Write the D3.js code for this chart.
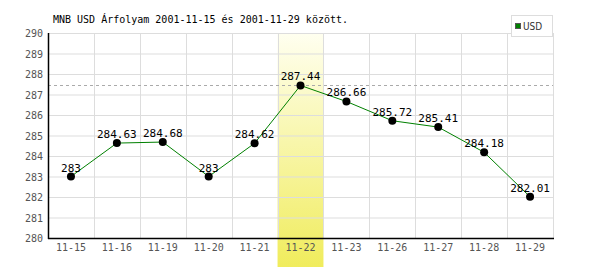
<!DOCTYPE html>
<html>
<head>
<meta charset="utf-8">
<script src="https://cdn.jsdelivr.net/npm/d3@7"></script>
<style>
  body { margin: 0; background: #fff; }
  svg { display: block; }
</style>
</head>
<body>
<div class="content"></div>
<script>
var dates = ['11-15', '11-16', '11-19', '11-20', '11-21', '11-22', '11-23', '11-26', '11-27', '11-28', '11-29'];
var usd = [283, 284.63, 284.68, 283, 284.62, 287.44, 286.66, 285.72, 285.41, 284.18, 282.01];
var yTicks = [280, 281, 282, 283, 284, 285, 286, 287, 288, 289, 290];
var highlight = '11-22';
var title = 'MNB USD Árfolyam 2001-11-15 és 2001-11-29 között.';

var chart = {
    width: 600,
    height: 270,
    left: 48,
    right: 553,
    top: 33,
    bottom: 238
};

var mono = '"DejaVu Sans Mono", monospace';

chart.svg = d3.select('.content').append('svg')
    .attr('width', chart.width)
    .attr('height', chart.height);

chart.x = d3.scaleBand().domain(dates).range([chart.left, chart.right]);
chart.y = d3.scaleLinear().domain([280, 290]).range([chart.bottom, chart.top]);

var defs = chart.svg.append('defs');
var grad = defs.append('linearGradient')
    .attr('id', 'hl')
    .attr('x1', 0).attr('y1', 0).attr('x2', 0).attr('y2', 1);
grad.append('stop').attr('offset', '0%').attr('stop-color', '#fffff0');
grad.append('stop').attr('offset', '100%').attr('stop-color', '#f0ec5c');

// highlighted day
chart.svg.append('rect')
    .attr('x', chart.x(highlight))
    .attr('y', chart.top)
    .attr('width', chart.x.bandwidth())
    .attr('height', 267 - chart.top)
    .style('fill', 'url(#hl)');

// grid
chart.svg.append('g').selectAll('line')
    .data(yTicks)
    .enter().append('line')
    .attr('x1', chart.left).attr('x2', chart.right)
    .attr('y1', function(d) { return chart.y(d) + 0.5; })
    .attr('y2', function(d) { return chart.y(d) + 0.5; })
    .style('stroke', '#dddddd');
chart.svg.append('g').selectAll('line')
    .data(dates.slice(1).concat(['end']))
    .enter().append('line')
    .attr('x1', function(d) { return d == 'end' ? chart.right + 0.5 : Math.round(chart.x(d)) + 0.5; })
    .attr('x2', function(d) { return d == 'end' ? chart.right + 0.5 : Math.round(chart.x(d)) + 0.5; })
    .attr('y1', chart.top).attr('y2', chart.bottom)
    .style('stroke', '#dddddd');

// max line
var maxV = d3.max(usd);
chart.svg.append('line')
    .attr('x1', chart.left).attr('x2', chart.right)
    .attr('y1', Math.round(chart.y(maxV)) + 0.5)
    .attr('y2', Math.round(chart.y(maxV)) + 0.5)
    .style('stroke', '#aaaaaa')
    .style('stroke-dasharray', '3,3');

// axes
chart.svg.append('line')
    .attr('x1', chart.left + 0.5).attr('x2', chart.left + 0.5)
    .attr('y1', chart.top).attr('y2', chart.bottom + 1)
    .style('stroke', 'black').style('stroke-width', 1.5);
chart.svg.append('line')
    .attr('x1', chart.left).attr('x2', chart.right + 1)
    .attr('y1', chart.bottom + 0.5).attr('y2', chart.bottom + 0.5)
    .style('stroke', 'black').style('stroke-width', 1.5);

chart.svg.append('g').selectAll('text')
    .data(yTicks)
    .enter().append('text')
    .attr('x', 43)
    .attr('y', function(d) { return chart.y(d) + 4; })
    .attr('text-anchor', 'end')
    .style('font-family', mono)
    .style('font-size', '10px')
    .style('fill', '#555')
    .text(function(d) { return d; });

chart.svg.append('g').selectAll('text')
    .data(dates)
    .enter().append('text')
    .attr('x', function(d) { return chart.x(d) + chart.x.bandwidth() / 2; })
    .attr('y', 251)
    .attr('text-anchor', 'middle')
    .style('font-family', mono)
    .style('font-size', '10px')
    .style('fill', '#555')
    .text(function(d) { return d; });

// series
var cx = function(d, i) { return chart.x(dates[i]) + chart.x.bandwidth() / 2; };
chart.line = d3.line()
    .x(cx)
    .y(function(d) { return chart.y(d); });
chart.svg.append('path')
    .attr('d', chart.line(usd))
    .style('fill', 'none')
    .style('stroke', '#008000')
    .style('stroke-width', 1);

chart.svg.append('g').selectAll('circle')
    .data(usd)
    .enter().append('circle')
    .attr('cx', cx)
    .attr('cy', function(d) { return chart.y(d); })
    .attr('r', 4)
    .style('fill', 'black');

chart.svg.append('g').selectAll('text')
    .data(usd)
    .enter().append('text')
    .attr('x', cx)
    .attr('y', function(d) { return chart.y(d) - 5; })
    .attr('text-anchor', 'middle')
    .style('font-family', mono)
    .style('font-size', '11px')
    .style('fill', 'black')
    .text(function(d) { return d; });

// title
chart.svg.append('text')
    .attr('x', 53).attr('y', 23)
    .style('font-family', mono)
    .style('font-size', '10px')
    .style('fill', 'black')
    .text(title);

// legend
var lg = chart.svg.append('g');
lg.append('rect')
    .attr('x', 511.5).attr('y', 15.5)
    .attr('width', 41).attr('height', 21)
    .style('fill', 'white')
    .style('stroke', '#dddddd');
lg.append('rect')
    .attr('x', 515.5).attr('y', 23.5)
    .attr('width', 5).attr('height', 5)
    .style('fill', '#008000')
    .style('stroke', '#555');
lg.append('text')
    .attr('x', 523).attr('y', 30)
    .style('font-family', '"DejaVu Sans Condensed", sans-serif')
    .style('font-size', '10px')
    .style('fill', '#333')
    .text('USD');
</script>
</body>
</html>
